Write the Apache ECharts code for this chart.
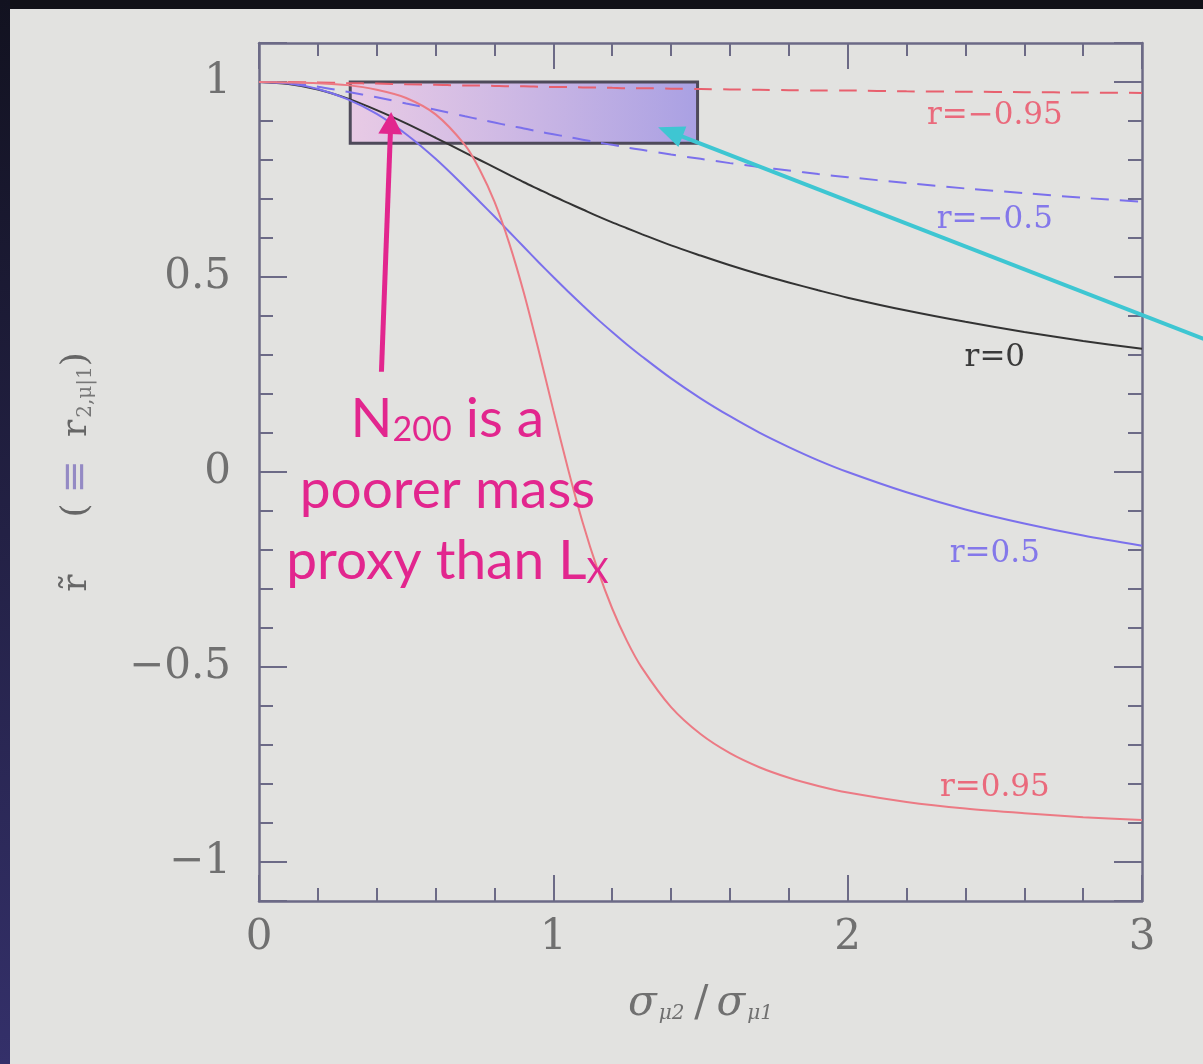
<!DOCTYPE html>
<html><head><meta charset="utf-8">
<script src="https://cdn.jsdelivr.net/npm/echarts@6/dist/echarts.min.js"></script>
<style>html,body{margin:0;padding:0;background:#e2e2e0;overflow:hidden}#c{width:1203px;height:1064px}</style>
</head><body><div id="c"></div>
<script>
// sigma_mu2 / sigma_mu1
const sigmaRatio = [0,0.1,0.2,0.3,0.4,0.5,0.6,0.7,0.75,0.8,0.85,0.9,0.95,1.0,1.05,1.1,1.15,1.2,1.25,1.3,1.4,1.5,1.6,1.7,1.8,1.9,2.0,2.2,2.4,2.6,2.8,3.0];
// r = -0.95 (red dashed)
const rMinus095 = [1,1.000,0.999,0.997,0.996,0.994,0.993,0.991,0.991,0.990,0.989,0.989,0.988,0.987,0.987,0.986,0.986,0.985,0.984,0.984,0.983,0.982,0.981,0.980,0.979,0.978,0.978,0.976,0.975,0.974,0.973,0.972];
// r = -0.5 (blue dashed)
const rMinus05 = [1,0.997,0.988,0.975,0.961,0.945,0.929,0.912,0.904,0.896,0.888,0.881,0.873,0.866,0.859,0.852,0.845,0.839,0.832,0.826,0.814,0.803,0.792,0.782,0.773,0.764,0.756,0.741,0.727,0.715,0.703,0.693];
// r = 0 (black)
const r0 = [1,0.995,0.981,0.958,0.928,0.894,0.857,0.819,0.800,0.781,0.762,0.743,0.725,0.707,0.690,0.673,0.656,0.640,0.625,0.610,0.581,0.555,0.530,0.507,0.486,0.466,0.447,0.414,0.385,0.359,0.336,0.316];
// r = 0.5 (blue solid)
const r05 = [1,0.996,0.982,0.956,0.918,0.866,0.803,0.731,0.693,0.655,0.616,0.577,0.538,0.500,0.463,0.427,0.392,0.359,0.327,0.297,0.240,0.189,0.143,0.101,0.064,0.030,0.000,-0.052,-0.096,-0.132,-0.163,-0.189];
// r = 0.95 (red solid)
const r095 = [1,0.999,0.997,0.992,0.980,0.959,0.917,0.838,0.775,0.693,0.587,0.459,0.312,0.158,0.008,-0.130,-0.249,-0.350,-0.433,-0.501,-0.603,-0.672,-0.721,-0.757,-0.784,-0.805,-0.822,-0.846,-0.863,-0.875,-0.885,-0.892];
const curveLabels = ['r=\u22120.95','r=\u22120.5','r=0','r=0.5','r=0.95'];
const highlightBox = [[0.31, 1.0], [1.49, 0.843]];

const RED = '#e8606e', RED2 = '#ec7a84', BLUE = '#7b70ec', BLACK = '#333333';
const AXIS = '#6c6a86', TXT = '#707070';
const zip = v => sigmaRatio.map((x, i) => [x, v[i]]);

const chart = echarts.init(document.getElementById('c'), null, {renderer: 'canvas'});

const labelFmt = v => {
  if (Math.abs(v * 2 - Math.round(v * 2)) > 1e-6) return '';
  return String(Math.round(v * 10) / 10).replace('-', '\u2212');
};

const baseX = {
  type: 'value', min: 0, max: 3, interval: 1,
  axisLine: {show: true, onZero: false, lineStyle: {color: AXIS, width: 2.5}},
  axisTick: {show: true, inside: true, length: 26, lineStyle: {color: AXIS, width: 2}},
  minorTick: {show: true, splitNumber: 5, length: 13, lineStyle: {color: AXIS, width: 2}},
  splitLine: {show: false}
};
const baseY = {
  type: 'value', min: -1.1, max: 1.1, splitNumber: 4,
  axisLine: {show: true, onZero: false, lineStyle: {color: AXIS, width: 2.5}},
  axisTick: {show: true, inside: true, length: 28, lineStyle: {color: AXIS, width: 2}},
  minorTick: {show: true, splitNumber: 5, length: 14, lineStyle: {color: AXIS, width: 2}},
  splitLine: {show: false}
};

const lineSeries = (name, data, color, dashed, w) => ({
  type: 'line', name, data: zip(data), smooth: 0.3, showSymbol: false, symbol: 'none',
  xAxisIndex: 0, yAxisIndex: 0, z: 3, clip: true,
  lineStyle: {color, width: w || 2, type: dashed ? [18, 11] : 'solid'}
});

chart.setOption({
  animation: false,
  backgroundColor: '#e2e2e0',
  grid: {left: 259, right: 61, top: 43, bottom: 163, containLabel: false},
  xAxis: [
    Object.assign({}, baseX, {
      position: 'bottom',
      axisLabel: {show: true, margin: 16, color: TXT, fontFamily: 'DejaVu Serif', fontSize: 42},
      name: '{s|\u03c3}{sub|\u03bc2}{sp| }{sl|/}{s|\u03c3}{sub|\u03bc1}',
      nameLocation: 'middle', nameGap: 78,
      nameTextStyle: {
        color: TXT,
        rich: {
          s: {fontFamily: 'DejaVu Serif', fontStyle: 'italic', fontSize: 42, color: TXT, lineHeight: 50},
          sl: {fontFamily: 'DejaVu Serif', fontSize: 42, color: TXT, lineHeight: 50, padding: [0, 8, 0, 6]},
          sp: {fontSize: 14},
          sub: {fontFamily: 'DejaVu Serif', fontStyle: 'italic', fontSize: 20, color: TXT, lineHeight: 26, padding: [20, 0, 0, 2]}
        }
      }
    }),
    Object.assign({}, baseX, {position: 'top', axisLabel: {show: false}})
  ],
  yAxis: [
    Object.assign({}, baseY, {
      position: 'left',
      axisLabel: {show: true, margin: 28, color: TXT, fontFamily: 'DejaVu Serif', fontSize: 42, formatter: labelFmt},
      name: '{m|r\u0303}{m|     (}{g|\u2261}{m|  r}{sub|2,\u03bc|1}{m|)}',
      nameLocation: 'middle', nameRotate: 90, nameGap: 160,
      nameTextStyle: {
        color: TXT,
        rich: {
          m: {fontFamily: 'DejaVu Serif', fontSize: 36, color: '#666', lineHeight: 44},
          g: {fontFamily: 'DejaVu Serif', fontSize: 40, color: '#948ac4', lineHeight: 44, padding: [0, 0, 0, 10]},
          sub: {fontFamily: 'DejaVu Serif', fontSize: 20, color: '#777', lineHeight: 24, padding: [18, 0, 0, 2]}
        }
      }
    }),
    Object.assign({}, baseY, {position: 'right', axisLabel: {show: false, formatter: labelFmt}})
  ],
  series: [
    lineSeries(curveLabels[0], rMinus095, RED, true),
    lineSeries(curveLabels[1], rMinus05, BLUE, true),
    lineSeries(curveLabels[2], r0, BLACK, false),
    lineSeries(curveLabels[3], r05, BLUE, false),
    lineSeries(curveLabels[4], r095, RED2, false),
    {
      type: 'line', data: [], xAxisIndex: 0, yAxisIndex: 0, z: 6, silent: true,
      markArea: {
        silent: true,
        itemStyle: {
          color: {type: 'linear', x: 0, y: 0, x2: 1, y2: 0, colorStops: [
            {offset: 0, color: 'rgba(236,188,232,0.62)'},
            {offset: 1, color: 'rgba(150,138,228,0.75)'}
          ]},
          borderColor: '#4e4a5a', borderWidth: 3
        },
        data: [[{coord: highlightBox[0]}, {coord: highlightBox[1]}]]
      }
    }
  ]
});

// annotations positioned through the chart's own coordinate system
const px = p => chart.convertToPixel({xAxisIndex: 0, yAxisIndex: 0}, p);
function arrow(from, to, color, width, headLen, headW) {
  const a = px(from), b = px(to);
  const dx = b[0] - a[0], dy = b[1] - a[1], L = Math.hypot(dx, dy);
  const ux = dx / L, uy = dy / L, nx = -uy, ny = ux;
  const base = [b[0] - ux * headLen, b[1] - uy * headLen];
  return [
    {type: 'line', z: 30, shape: {x1: a[0], y1: a[1], x2: base[0] + ux * 2, y2: base[1] + uy * 2}, style: {stroke: color, lineWidth: width}},
    {type: 'polygon', z: 30, shape: {points: [b, [base[0] + nx * headW / 2, base[1] + ny * headW / 2], [base[0] - nx * headW / 2, base[1] - ny * headW / 2]]}, style: {fill: color}}
  ];
}
function label(text, pos, color) {
  const p = px(pos);
  return {type: 'text', z: 25, x: p[0], y: p[1], style: {text, fill: color, font: '31px "DejaVu Serif"', align: 'center', verticalAlign: 'middle'}};
}
const PINK = '#e2268e';
const tp = px([0.64, -0.046]);
const graphics = [
  {type: 'rect', z: 40, shape: {x: 0, y: 0, width: 1203, height: 9}, style: {fill: '#111118'}},
  {type: 'rect', z: 40, shape: {x: 0, y: 0, width: 10, height: 1064}, style: {fill: {type: 'linear', x: 0, y: 0, x2: 0, y2: 1, colorStops: [{offset: 0, color: '#121220'}, {offset: 1, color: '#34306a'}]}}},
  label(curveLabels[0], [2.5, 0.913], '#ea6a7c'),
  label(curveLabels[1], [2.5, 0.645], '#8478ea'),
  label(curveLabels[2], [2.5, 0.293], '#3a3a3a'),
  label(curveLabels[3], [2.5, -0.211], '#8478ea'),
  label(curveLabels[4], [2.5, -0.810], '#ea6a7c'),
  {
    type: 'text', z: 28, x: tp[0], y: tp[1],
    style: {
      text: '{m|N}{sub|200}{m| is a}\n{m|poorer mass}\n{m|proxy than L}{sub|X}',
      align: 'center', verticalAlign: 'middle', fill: PINK,
      rich: {
        m: {fontFamily: 'Lato', fontSize: 55, lineHeight: 71, fill: PINK, color: PINK},
        sub: {fontFamily: 'Lato', fontSize: 34, lineHeight: 40, fill: PINK, color: PINK, padding: [22, 0, 0, 0]}
      }
    }
  }
].concat(
  arrow([0.416, 0.257], [0.449, 0.923], PINK, 5, 22, 24),
  arrow([3.3, 0.315], [1.356, 0.884], '#3ec6d2', 4, 26, 22)
);
chart.setOption({graphic: graphics});
</script>
</body></html>
